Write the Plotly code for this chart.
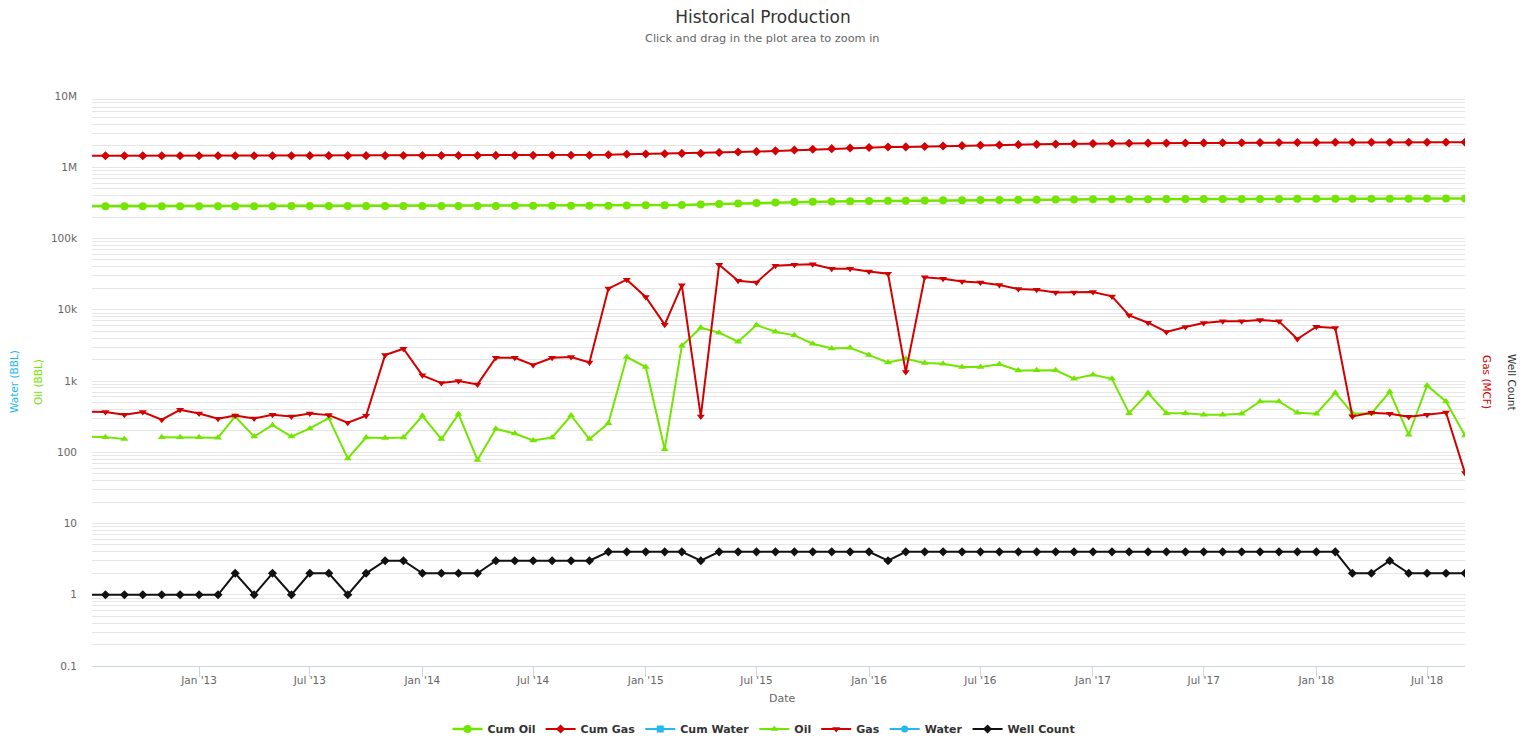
import pandas as pd
import plotly.graph_objects as go

# ---------------- data (monthly, Jul 2012 .. Sep 2018) ----------------
start_month = "2012-07-01"

gas = [370, 366, 336, 366, 286, 394, 350, 295, 328, 298, 336, 318, 350, 332, 259, 325,
       2310, 2840, 1200, 935, 1000, 895, 2120, 2120, 1675, 2120, 2170, 1820,
       19800, 26400, 15100, 6170, 22000, 318,
       42900, 25600, 24200, 41600, 42900, 43400, 37700, 37700, 34300, 32100, 1334,
       28500, 27300, 25000, 24200, 22300, 19500, 19100, 17500, 17500, 17700, 15400,
       8340, 6580, 4870, 5720, 6510, 6870, 6870, 7180, 6870, 3880, 5780, 5540,
       318, 358, 347, 315, 336, 361, 51]

oil = [165, 163, 153, None, 163, 163, 163, 160, 318, 166, 240, 166, 216, 302, 82, 161,
       158, 161, 325, 153, 343, 78, 213, 183, 146, 161, 328, 153, 256, 2170, 1570,
       110, 3130, 5600, 4760, 3560, 6100, 4920, 4370, 3330, 2860, 2930, 2310, 1820,
       2050, 1790, 1750, 1570, 1570, 1720, 1406, 1410, 1410, 1075, 1224, 1075,
       354, 677, 354, 354, 336, 336, 347, 516, 516, 358, 347, 684, 354, 350, 706,
       176, 865, 516, 172]

well_count = [1, 1, 1, 1, 1, 1, 1, 1, 2, 1, 2, 1, 2, 2, 1, 2, 3, 3, 2, 2, 2, 2,
              3, 3, 3, 3, 3, 3, 4, 4, 4, 4, 4, 3, 4, 4, 4, 4, 4, 4, 4, 4, 4, 3,
              4, 4, 4, 4, 4, 4, 4, 4, 4, 4, 4, 4, 4, 4, 4, 4, 4, 4, 4, 4, 4, 4, 4, 4,
              2, 2, 3, 2, 2, 2, 2]

cum_oil = [282800, 283000, 283200, 283200, 283400, 283500, 283700, 283900, 284200, 284300,
           284600, 284700, 284900, 285200, 285300, 285500, 285600, 285800, 286100, 286300,
           286600, 286700, 286900, 287100, 287200, 287400, 287700, 287900, 288100, 290300,
           291900, 292000, 295100, 300700, 305500, 309000, 315100, 320000, 324400, 327700,
           330600, 333500, 335800, 337700, 339700, 341500, 343300, 344800, 346400, 348100,
           349500, 350900, 352400, 353400, 354700, 355700, 356100, 356700, 357100, 357400,
           357800, 358100, 358500, 359000, 359500, 359900, 360200, 360900, 361300, 361600,
           362300, 362500, 363300, 363900, 364000]

cum_gas = [1449700, 1450000, 1450300, 1450700, 1451000, 1451400, 1451700, 1452000, 1452400,
           1452700, 1453000, 1453300, 1453700, 1454000, 1454300, 1454600, 1456900, 1459700,
           1460900, 1461900, 1462900, 1463800, 1465900, 1468000, 1469700, 1471800, 1474000,
           1475800, 1495600, 1522000, 1537100, 1543300, 1565300, 1565600, 1608500, 1634100,
           1658300, 1699900, 1742800, 1786200, 1823900, 1861600, 1895900, 1928000, 1929300,
           1957800, 1985100, 2010100, 2034300, 2056800, 2076300, 2095400, 2112900, 2130400,
           2148100, 2163500, 2171800, 2178400, 2183300, 2189000, 2195500, 2202400, 2209300,
           2216500, 2223400, 2227300, 2233100, 2238600, 2238900, 2239300, 2239600, 2239900,
           2240300, 2240600, 2240700]

cum_water = [None] * len(gas)
water = [None] * len(gas)

x_tick_dates = ["2013-01-01", "2013-07-01", "2014-01-01", "2014-07-01", "2015-01-01",
                "2015-07-01", "2016-01-01", "2016-07-01", "2017-01-01", "2017-07-01",
                "2018-01-01", "2018-07-01"]
x_tick_labels = ["Jan '13", "Jul '13", "Jan '14", "Jul '14", "Jan '15", "Jul '15",
                 "Jan '16", "Jul '16", "Jan '17", "Jul '17", "Jan '18", "Jul '18"]

y_decades = [0.1, 1, 10, 100, 1000, 10000, 100000, 1000000, 10000000]
y_decade_labels = ["0.1", "1", "10", "100", "1k", "10k", "100k", "1M", "10M"]

for arr in (oil, well_count, cum_oil, cum_gas):
    assert len(arr) == len(gas), len(arr)

dates = pd.date_range(start_month, periods=len(gas), freq="MS")

# ---------------- styling ----------------
GREEN = "#73e600"
RED = "#d20000"
CYAN = "#23b7f3"
BLACK = "#111111"
FONT = "DejaVu Sans"

fig = go.Figure()

def add(name, y, color, symbol, size, width):
    fig.add_trace(go.Scatter(
        x=dates, y=y, name=name, mode="lines+markers",
        line=dict(color=color, width=width),
        marker=dict(symbol=symbol, size=size, color=color),
        connectgaps=False,
    ))

add("Cum Oil", cum_oil, GREEN, "circle", 8, 2.5)
add("Cum Gas", cum_gas, RED, "diamond", 7, 2)
add("Cum Water", cum_water, CYAN, "square", 7, 2)
add("Oil", oil, GREEN, "triangle-up", 7, 2)
add("Gas", gas, RED, "triangle-down", 7, 2)
add("Water", water, CYAN, "circle", 7, 2)
add("Well Count", well_count, BLACK, "diamond", 7, 2)

# gridlines at 1..9 x each decade
grid_vals, grid_text = [], []
for d, lab in zip(y_decades, y_decade_labels):
    grid_vals.append(d)
    grid_text.append(lab)
    if d < 10000000:
        for k in range(2, 10):
            grid_vals.append(d * k)
            grid_text.append("")

# the page body has an 8px margin, so the figure is laid out 8px up/left
OFF = 8
W, H = 1525, 732
L, T = 92 - OFF, 96 - OFF
R = W - (1465 - OFF)
B = H - (666 - OFF)
ph = H - T - B
pw = W - L - R

def py(pix):  # reference pixel y -> paper y
    return (H - B - (pix - OFF)) / ph

def px(pix):  # reference pixel x -> paper x
    return (pix - OFF - L) / pw

fig.update_layout(
    width=W, height=H, autosize=False,
    margin=dict(l=L, r=R, t=T, b=B),
    paper_bgcolor="white", plot_bgcolor="white",
    font=dict(family=FONT, color="#666666", size=11),
    showlegend=True,
    legend=dict(orientation="h", x=(764 - OFF) / W, xanchor="center", xref="container",
                y=1 - (729 - OFF) / H, yanchor="middle", yref="container",
                font=dict(family=FONT, size=11, color="#333333", weight="bold"),
                itemwidth=30, tracegroupgap=0),
    title=dict(text="Historical Production", x=(763 - OFF) / W, xanchor="center",
               xref="container", y=1 - (17 - OFF) / H, yanchor="middle", yref="container",
               font=dict(family=FONT, size=17, color="#333333")),
    xaxis=dict(type="date", range=["2012-07-10", "2018-09-01"],
               tickvals=x_tick_dates, ticktext=x_tick_labels,
               showgrid=False, zeroline=False,
               showline=True, linecolor="#ccd6eb", linewidth=1,
               ticks="outside", ticklen=10, tickcolor="#ccd6eb",
               ticklabelstandoff=-6,
               tickfont=dict(size=10.5, color="#666666")),
    yaxis=dict(type="log", range=[-1, 7],
               tickvals=grid_vals, ticktext=grid_text,
               showgrid=True, gridcolor="#e6e6e6", gridwidth=1,
               zeroline=False, showline=False, ticks="",
               ticklabelstandoff=14,
               tickfont=dict(size=10.5, color="#666666")),
)

fig.add_annotation(text="Click and drag in the plot area to zoom in",
                   xref="paper", yref="paper", x=px(762), y=py(39),
                   showarrow=False, xanchor="center", yanchor="middle",
                   font=dict(family=FONT, size=11.3, color="#666666"))
fig.add_annotation(text="Date", xref="paper", yref="paper", x=px(782), y=py(698),
                   showarrow=False, xanchor="center", yanchor="middle",
                   font=dict(family=FONT, size=11, color="#666666"))
fig.add_annotation(text="Water (BBL)", xref="paper", yref="paper", x=px(14), y=py(382),
                   showarrow=False, textangle=-90, xanchor="center", yanchor="middle",
                   font=dict(family=FONT, size=10.5, color=CYAN))
fig.add_annotation(text="Oil (BBL)", xref="paper", yref="paper", x=px(38), y=py(382),
                   showarrow=False, textangle=-90, xanchor="center", yanchor="middle",
                   font=dict(family=FONT, size=10.5, color=GREEN))
fig.add_annotation(text="Gas (MCF)", xref="paper", yref="paper", x=px(1487), y=py(382),
                   showarrow=False, textangle=90, xanchor="center", yanchor="middle",
                   font=dict(family=FONT, size=10.5, color=RED))
fig.add_annotation(text="Well Count", xref="paper", yref="paper", x=px(1512), y=py(382),
                   showarrow=False, textangle=90, xanchor="center", yanchor="middle",
                   font=dict(family=FONT, size=10.5, color="#333333"))

fig.write_html("out.html")
